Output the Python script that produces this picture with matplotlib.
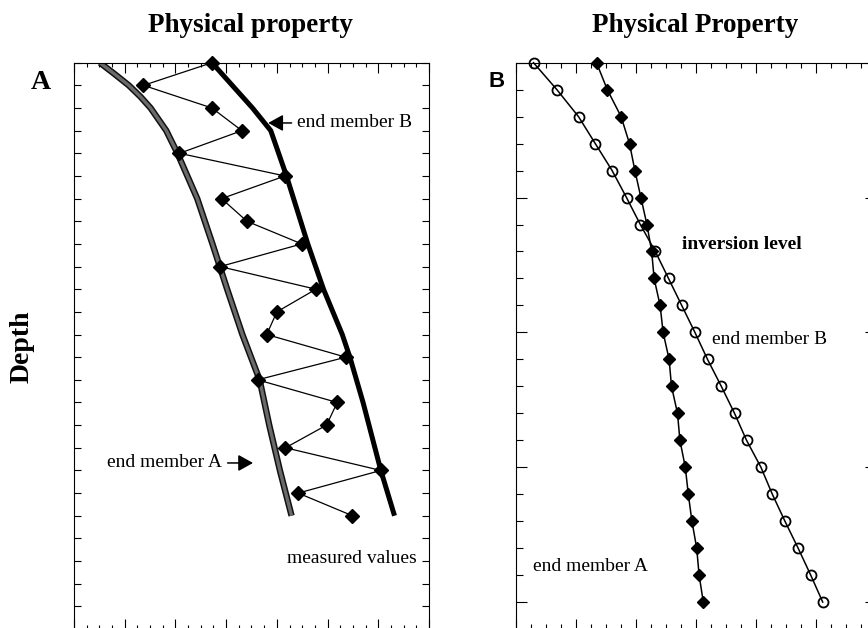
import matplotlib
matplotlib.use("Agg")
import matplotlib.pyplot as plt
import matplotlib.patheffects as pe
from matplotlib.ticker import MultipleLocator

plt.rcParams['font.family'] = ['Liberation Serif', 'DejaVu Serif']

# ---- panel A: alternating measurements between two end members ----
meas_depth = [0, 1, 2, 3, 4, 5, 6, 7, 8, 9, 10, 11, 12, 13, 14, 15, 16, 17, 18, 19, 20]
meas_vals = [2.72, 1.37, 2.72, 3.31, 2.08, 4.16, 2.91, 3.41, 4.49, 2.88, 4.77,
             4.00, 3.80, 5.36, 3.62, 5.19, 4.98, 4.17, 6.05, 4.42, 5.49]

endA_depth = [0, 0.5, 1, 1.5, 2, 3, 4, 6, 8, 10, 12, 14, 16, 18, 20]
endA_vals = [0.51, 0.80, 1.08, 1.31, 1.51, 1.82, 2.04, 2.43, 2.73, 3.02, 3.32, 3.66, 3.85, 4.06, 4.29]

endB_depth = [0, 2, 3, 5, 8, 10, 12, 13, 15, 18, 20]
endB_vals = [2.72, 3.52, 3.88, 4.19, 4.61, 4.92, 5.29, 5.44, 5.70, 6.05, 6.32]

# ---- panel B: two end members crossing at the inversion level ----
b_depth = [0, 1, 2, 3, 4, 5, 6, 7, 8, 9, 10, 11, 12, 13, 14, 15, 16, 17, 18, 19, 20]
b_circles = [0.30, 0.69, 1.05, 1.33, 1.61, 1.85, 2.08, 2.33, 2.55, 2.77, 2.99,
             3.20, 3.43, 3.65, 3.85, 4.09, 4.28, 4.49, 4.71, 4.92, 5.12]
b_diamonds = [1.35, 1.53, 1.76, 1.90, 1.99, 2.09, 2.19, 2.27, 2.31, 2.41, 2.46,
              2.56, 2.60, 2.70, 2.74, 2.83, 2.88, 2.94, 3.02, 3.06, 3.13]

W, H = 868, 628
fig = plt.figure(figsize=(W / 100, H / 100), dpi=100)

top_px, bot_px = 62.7, 629.0
axA = fig.add_axes([74 / W, 1 - bot_px / H, 355 / W, (bot_px - top_px) / H])
axB = fig.add_axes([515.5 / W, 1 - bot_px / H, 360 / W, (bot_px - top_px) / H])

arrow = dict(arrowstyle='-|>,head_length=0.45,head_width=0.25', color='black',
             lw=1.1, mutation_scale=20, shrinkA=2, shrinkB=0)

# ---------------- Panel A ----------------
axA.plot(endA_vals, endA_depth, color='#6a6a6a', lw=2.4, solid_capstyle='butt',
         path_effects=[pe.Stroke(linewidth=4.6, foreground='#111111'), pe.Normal()])
axA.plot(endB_vals, endB_depth, color='black', lw=3.6, solid_capstyle='butt')
axA.plot(meas_vals, meas_depth, color='black', lw=0.9, marker='D', ms=7,
         mfc='black', mec='black', clip_on=False, zorder=5)

axA.set_xlim(0, 7)
axA.set_ylim(25, 0)
axA.xaxis.set_major_locator(MultipleLocator(1))
axA.xaxis.set_minor_locator(MultipleLocator(0.25))
axA.yaxis.set_major_locator(MultipleLocator(1))
axA.tick_params(which='both', direction='in', top=True, right=True,
                labelbottom=False, labelleft=False, width=0.8)
axA.tick_params(axis='x', which='major', length=7)
axA.tick_params(axis='x', which='minor', length=3.2)
axA.tick_params(axis='y', which='major', length=5)

axA.annotate('end member B', xy=(3.83, 2.66), xytext=(4.40, 2.66),
             ha='left', va='center', fontsize=14, arrowprops=arrow)
axA.annotate('end member A', xy=(3.53, 17.67), xytext=(2.92, 17.67),
             ha='right', va='center', fontsize=14, arrowprops=arrow)
axA.text(5.48, 21.87, 'measured values', ha='center', va='center', fontsize=14)

# ---------------- Panel B ----------------
axB.plot(b_circles, b_depth, color='black', lw=1.1, marker='o', ms=7.2,
         mfc='none', mec='black', mew=1.3, clip_on=False, zorder=4)
axB.plot(b_diamonds, b_depth, color='black', lw=1.1, marker='D', ms=6.2,
         mfc='black', mec='black', clip_on=False, zorder=5)

axB.set_xlim(0, 6)
axB.set_ylim(21, 0)
axB.xaxis.set_major_locator(MultipleLocator(1))
axB.xaxis.set_minor_locator(MultipleLocator(0.25))
axB.yaxis.set_major_locator(MultipleLocator(5))
axB.yaxis.set_minor_locator(MultipleLocator(1))
axB.tick_params(which='both', direction='in', top=True, right=True,
                labelbottom=False, labelleft=False, width=0.8)
axB.tick_params(axis='x', which='major', length=7)
axB.tick_params(axis='x', which='minor', length=3.5)
axB.tick_params(axis='y', which='major', length=8)
axB.tick_params(axis='y', which='minor', length=5)

axB.text(2.77, 6.76, 'inversion level', ha='left', va='center',
         fontsize=14, fontweight='bold')
axB.text(3.28, 10.26, 'end member B', ha='left', va='center', fontsize=14)
axB.text(0.29, 18.69, 'end member A', ha='left', va='center', fontsize=14)

for ax in (axA, axB):
    for sp in ax.spines.values():
        sp.set_linewidth(0.8)

# ---------------- Titles and labels ----------------
fig.text(250.5 / W, 1 - 32 / H, 'Physical property', ha='center', va='baseline',
         fontsize=19.5, fontweight='bold')
fig.text(695 / W, 1 - 32 / H, 'Physical Property', ha='center', va='baseline',
         fontsize=19.5, fontweight='bold')
fig.text(41 / W, 1 - 89 / H, 'A', ha='center', va='baseline',
         fontsize=20, fontweight='bold')
fig.text(497 / W, 1 - 87 / H, 'B', ha='center', va='baseline', fontsize=16,
         fontweight='bold', family=['Liberation Sans', 'DejaVu Sans'])
fig.text(22 / W, 1 - 347 / H, 'Depth', ha='center', va='center', rotation=90,
         fontsize=20, fontweight='bold')

fig.savefig('out.png', dpi=100)
